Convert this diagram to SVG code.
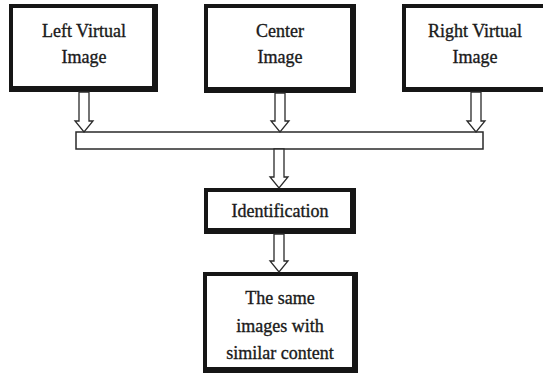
<svg xmlns="http://www.w3.org/2000/svg" width="543" height="376" viewBox="0 0 543 376">
<style>
.frame{fill:#161616}
.inner{fill:#ffffff}
.t{font-family:"Liberation Serif","Times New Roman",serif;font-size:18px;fill:#1a1a1a;stroke:#1a1a1a;stroke-width:0.35;text-anchor:middle}
.arr{fill:#ffffff;stroke:#2a2a2a;stroke-width:1.3;stroke-linejoin:miter}
.bar{fill:#ffffff;stroke:#2a2a2a;stroke-width:1.5}
</style>
<rect width="543" height="376" fill="#ffffff"/>
<g id="left">
<rect class="frame" x="9" y="4" width="149" height="88"/>
<rect class="inner" x="13" y="8" width="139" height="78"/>
<text class="t" x="84" y="37">Left Virtual</text>
<text class="t" x="84" y="63">Image</text>
</g>
<g id="center">
<rect class="frame" x="204" y="4" width="152" height="89"/>
<rect class="inner" x="208" y="8" width="142" height="79"/>
<text class="t" x="280" y="37">Center</text>
<text class="t" x="280" y="63">Image</text>
</g>
<g id="right">
<rect class="frame" x="402" y="4" width="150" height="88"/>
<rect class="inner" x="406" y="8" width="150" height="79"/>
<text class="t" x="475" y="37">Right Virtual</text>
<text class="t" x="475" y="63">Image</text>
</g>
<g id="merge">
<rect class="bar" x="76" y="132" width="407" height="17"/>
</g>
<g id="identification">
<rect class="frame" x="204" y="188" width="152" height="46"/>
<rect class="inner" x="208" y="192" width="142" height="36"/>
<text class="t" x="280" y="217">Identification</text>
</g>
<g id="result">
<rect class="frame" x="203" y="272" width="155" height="101"/>
<rect class="inner" x="207" y="276" width="145" height="91"/>
<text class="t" x="280" y="304">The same</text>
<text class="t" x="280" y="332">images with</text>
<text class="t" x="280" y="359">similar content</text>
</g>
<g id="connectors">
<polygon class="arr" points="79,92 89,92 89,121 93,121 84,132 75,121 79,121"/>
<polygon class="arr" points="275,93 285,93 285,121 289,121 280,132 271,121 275,121"/>
<polygon class="arr" points="471,92 481,92 481,121 485,121 476,132 467,121 471,121"/>
<polygon class="arr" points="274,149 284,149 284,177 288,177 279,188 270,177 274,177"/>
<polygon class="arr" points="274,234 284,234 284,261 288,261 279,272 270,261 274,261"/>
</g>
</svg>
